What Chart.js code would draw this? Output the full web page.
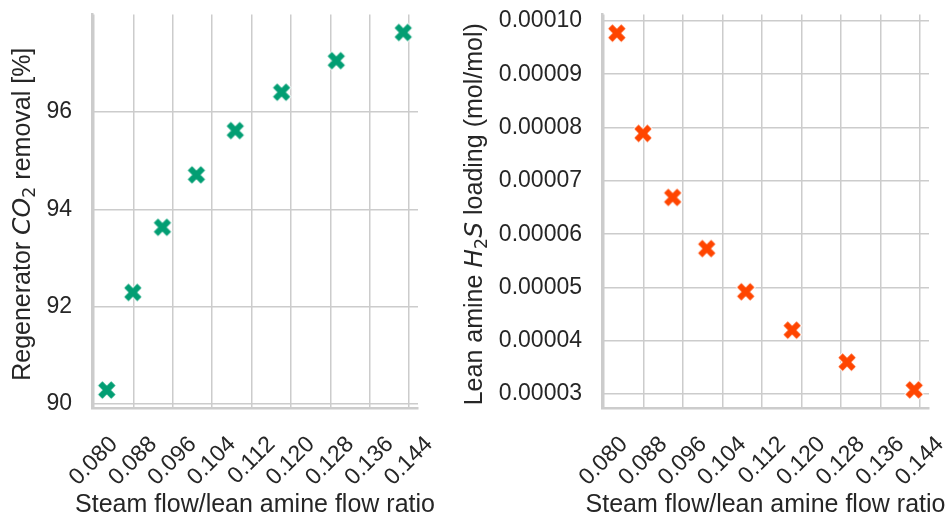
<!DOCTYPE html>
<html>
<head>
<meta charset="utf-8">
<script src="https://cdn.jsdelivr.net/npm/chart.js@4"></script>
<style>
  body { margin: 0; background: #fff; }
  .wrap { position: absolute; top: 0; height: 515px; }
</style>
</head>
<body>
<div class="wrap" style="left:0;width:455px"><canvas id="co2Chart"></canvas></div>
<div class="wrap" style="left:455px;width:495px"><canvas id="h2sChart"></canvas></div>
<script>
// steam flow / lean amine flow ratio
const ratio = [0.0826, 0.0879, 0.0939, 0.1008, 0.1087, 0.1181, 0.1292, 0.1428];
const co2Removal = [90.28, 92.29, 93.63, 94.71, 95.62, 96.41, 97.06, 97.64];
const h2sLoading = [0.0000977, 0.0000789, 0.0000669, 0.0000573, 0.0000492, 0.0000420, 0.0000360, 0.0000308];

const xTicks = [0.080, 0.088, 0.096, 0.104, 0.112, 0.120, 0.128, 0.136, 0.144];
const co2Ticks = [90, 92, 94, 96];
const h2sTicks = [0.00003, 0.00004, 0.00005, 0.00006, 0.00007, 0.00008, 0.00009, 0.00010];

const FONT = "'Liberation Sans', Arial, sans-serif";
const MATH = "'DejaVu Sans', sans-serif";
const TEXT = "#262626";
const GRID = "#cccccc";

const xTitle = "Steam flow/lean amine flow ratio";
// y titles have math parts (italic symbol, subscript)
const co2Title = [
  { text: "Regenerator ", font: "25px " + FONT },
  { text: "CO", font: "italic 25px " + MATH },
  { text: "2", font: "17.5px " + MATH, dy: 5 },
  { text: " removal [%]", font: "25px " + FONT }
];
const h2sTitle = [
  { text: "Lean amine ", font: "25px " + FONT },
  { text: "H", font: "italic 25px " + MATH },
  { text: "2", font: "17.5px " + MATH, dy: 5 },
  { text: "S", font: "italic 25px " + MATH },
  { text: " loading (mol/mol)", font: "25px " + FONT }
];

// axis titles drawn by hand: chart.js squeezes the x title to the plot width
function titlesPlugin(parts, baseX) {
  return {
    id: "axisTitles",
    afterDraw(chart) {
      const { ctx, chartArea } = chart;
      ctx.save();
      ctx.fillStyle = TEXT;
      ctx.textBaseline = "alphabetic";

      ctx.font = "25px " + FONT;
      ctx.textAlign = "center";
      ctx.fillText(xTitle, (chartArea.left + chartArea.right) / 2, 511.5);

      ctx.textAlign = "left";
      const widths = parts.map(p => { ctx.font = p.font; return ctx.measureText(p.text).width; });
      const total = widths.reduce((a, b) => a + b, 0);
      ctx.translate(baseX, (chartArea.top + chartArea.bottom) / 2 + 3);
      ctx.rotate(-Math.PI / 2);
      let x = -total / 2;
      parts.forEach((p, i) => {
        ctx.font = p.font;
        ctx.fillText(p.text, x, p.dy || 0);
        x += widths[i];
      });
      ctx.restore();
    }
  };
}

// filled X marker with white edge
function xMarker(color) {
  const c = document.createElement("canvas");
  c.width = 26; c.height = 26;
  const g = c.getContext("2d");
  g.translate(13, 13);
  g.lineCap = "butt";
  const L = 9.2;
  [["#ffffff", 8, L + 1], [color, 6, L]].forEach(([col, w, l]) => {
    g.strokeStyle = col;
    g.lineWidth = w;
    g.beginPath();
    g.moveTo(-l * 0.707, -l * 0.707); g.lineTo(l * 0.707, l * 0.707);
    g.moveTo(-l * 0.707, l * 0.707); g.lineTo(l * 0.707, -l * 0.707);
    g.stroke();
  });
  return c;
}

function makeChart(id, ys, color, yTicks, yMin, yMax, yFmt, titleParts, titleX, yWidth, padRight) {
  const ctx = document.getElementById(id).getContext("2d");
  return new Chart(ctx, {
    type: "scatter",
    data: {
      datasets: [{
        data: ratio.map((x, i) => ({ x: x, y: ys[i] })),
        pointStyle: xMarker(color),
        pointRadius: 10,
        showLine: false
      }]
    },
    options: {
      responsive: true,
      maintainAspectRatio: false,
      animation: false,
      layout: { padding: { top: 14.5, right: padRight, left: 0, bottom: 0 } },
      plugins: { legend: { display: false }, tooltip: { enabled: false } },
      scales: {
        x: {
          type: "linear",
          min: 0.0796,
          max: 0.1458,
          afterBuildTicks: s => { s.ticks = xTicks.map(v => ({ value: v })); },
          afterFit: s => { s.height = 107; s.paddingLeft = 0; s.paddingRight = 0; },
          grid: { color: GRID, lineWidth: 1.5, drawTicks: false },
          border: { color: GRID, width: 2.5 },
          ticks: {
            autoSkip: false,
            minRotation: 45,
            maxRotation: 45,
            padding: 23,
            labelOffset: 20,
            color: TEXT,
            font: { family: FONT, size: 23 },
            callback: v => v.toFixed(3)
          }
        },
        y: {
          min: yMin,
          max: yMax,
          afterBuildTicks: s => { s.ticks = yTicks.map(v => ({ value: v })); },
          afterFit: s => { s.width = yWidth; s.paddingTop = 0; s.paddingBottom = 0; },
          grid: { color: GRID, lineWidth: 1.5, drawTicks: false },
          border: { color: GRID, width: 2.5 },
          ticks: {
            padding: 20,
            color: TEXT,
            font: { family: FONT, size: 23 },
            callback: yFmt
          }
        }
      }
    },
    plugins: [titlesPlugin(titleParts, titleX)]
  });
}

makeChart("co2Chart", co2Removal, "#029e73", co2Ticks, 89.91, 98.01,
  v => v.toFixed(0), co2Title, 30, 92, 37);
makeChart("h2sChart", h2sLoading, "#ff4500", h2sTicks, 0.0000274, 0.0001012,
  v => v.toFixed(5), h2sTitle, 27, 147, 21);
</script>
</body>
</html>
